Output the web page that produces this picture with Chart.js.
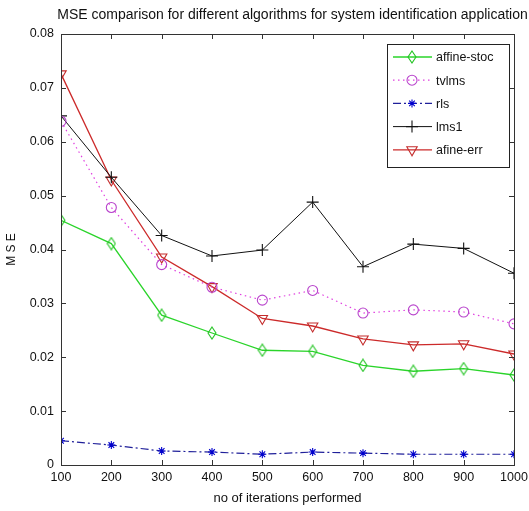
<!DOCTYPE html>
<html>
<head>
<meta charset="utf-8">
<script src="https://cdn.jsdelivr.net/npm/chart.js@4.4.0/dist/chart.umd.min.js"></script>
<style>
  html, body { margin: 0; padding: 0; background: #fff; }
  #wrap { width: 529px; height: 511px; }
</style>
</head>
<body>
<div id="wrap"><canvas id="mseChart" width="529" height="511"></canvas></div>
<script>
const iterations = [100, 200, 300, 400, 500, 600, 700, 800, 900, 1000];
const affineStoc = [0.0454, 0.0411, 0.0278, 0.0245, 0.0213, 0.0211, 0.0185, 0.0174, 0.0179, 0.0167];
const tvlms = [0.0638, 0.0478, 0.0372, 0.0330, 0.0306, 0.0324, 0.0282, 0.0288, 0.0284, 0.0262];
const rls = [0.0045, 0.0037, 0.0026, 0.0024, 0.0020, 0.0024, 0.0022, 0.0020, 0.0020, 0.0020];
const lms1 = [0.0648, 0.0534, 0.0426, 0.0388, 0.0399, 0.0488, 0.0368, 0.0410, 0.0402, 0.0356];
const afineErr = [0.0726, 0.0529, 0.0386, 0.0331, 0.0272, 0.0258, 0.0234, 0.0223, 0.0225, 0.0206];
const yTicks = [0, 0.01, 0.02, 0.03, 0.04, 0.05, 0.06, 0.07, 0.08];
const chartTitle = 'MSE comparison for different algorithms for system identification application';

const FONT = "'Liberation Sans', Arial, sans-serif";

// narrow matlab style diamond marker
function diamond(color) {
    const c = document.createElement('canvas');
    c.width = 10; c.height = 14;
    const g = c.getContext('2d');
    g.strokeStyle = color;
    g.lineWidth = 1.1;
    g.beginPath();
    g.moveTo(5, 1); g.lineTo(9, 7); g.lineTo(5, 13); g.lineTo(1, 7); g.closePath();
    g.stroke();
    return c;
}
const greenDiamond = diamond('#22c422');

function toXY(vals) {
    return vals.map((v, i) => ({ x: iterations[i], y: v }));
}

const datasets = [{
    label: 'affine-stoc',
    data: toXY(affineStoc),
    borderColor: '#2ad42a',
    borderWidth: 1.3,
    pointStyle: greenDiamond,
    pointBorderColor: '#22c422',
}, {
    label: 'tvlms',
    data: toXY(tvlms),
    borderColor: '#e040e0',
    borderWidth: 1.2,
    borderDash: [1.5, 3.5],
    pointStyle: 'circle',
    pointRadius: 5,
    pointBorderColor: '#b844cc',
}, {
    label: 'rls',
    data: toXY(rls),
    borderColor: '#20209a',
    borderWidth: 1.2,
    borderDash: [8, 3, 2, 3],
    pointStyle: 'star',
    pointRadius: 4,
    pointBorderColor: '#0000cc',
}, {
    label: 'lms1',
    data: toXY(lms1),
    borderColor: '#111111',
    borderWidth: 1,
    pointStyle: 'cross',
    pointRadius: 6,
    pointBorderColor: '#111111',
}, {
    label: 'afine-err',
    data: toXY(afineErr),
    borderColor: '#cc2a2a',
    borderWidth: 1.3,
    pointStyle: 'triangle',
    pointRotation: 180,
    pointRadius: 6,
    pointBorderColor: '#c42c2c',
}];

datasets.forEach(d => {
    d.fill = false;
    d.tension = 0;
    d.pointBackgroundColor = 'rgba(0,0,0,0)';
    d.pointBorderWidth = d.pointBorderWidth || 1.1;
    if (d.pointRadius === undefined) d.pointRadius = 6;
});

// title centred over the axes, not the canvas
const axesTitle = {
    id: 'axesTitle',
    afterDraw(chart) {
        const { ctx, chartArea: a } = chart;
        ctx.save();
        ctx.font = '14px ' + FONT;
        ctx.fillStyle = '#111';
        ctx.textAlign = 'center';
        ctx.textBaseline = 'middle';
        ctx.fillText(chartTitle, (a.left + a.right) / 2 + 5, 15);
        ctx.restore();
    }
};

// box round the axes with inward ticks, matlab style
const axesBox = {
    id: 'axesBox',
    afterDatasetsDraw(chart) {
        const { ctx, chartArea: a, scales } = chart;
        ctx.save();
        ctx.strokeStyle = '#333';
        ctx.lineWidth = 1;
        ctx.strokeRect(a.left + 0.5, a.top + 0.5, a.right - a.left, a.bottom - a.top);
        ctx.beginPath();
        iterations.forEach(v => {
            const x = Math.round(scales.x.getPixelForValue(v)) + 0.5;
            ctx.moveTo(x, a.bottom); ctx.lineTo(x, a.bottom - 5);
            ctx.moveTo(x, a.top); ctx.lineTo(x, a.top + 5);
        });
        yTicks.forEach(v => {
            const y = Math.round(scales.y.getPixelForValue(v)) + 0.5;
            ctx.moveTo(a.left, y); ctx.lineTo(a.left + 5, y);
            ctx.moveTo(a.right, y); ctx.lineTo(a.right - 5, y);
        });
        ctx.stroke();
        ctx.restore();
    }
};

// legend box inside the axes, top right
const boxLegend = {
    id: 'boxLegend',
    afterDraw(chart) {
        const { ctx, chartArea: a } = chart;
        const w = 122, rowH = 23.2, h = 123;
        const left = a.right - 5 - w, top = a.top + 10;
        ctx.save();
        ctx.fillStyle = '#fff';
        ctx.fillRect(left, top, w, h);
        ctx.strokeStyle = '#222';
        ctx.lineWidth = 1;
        ctx.strokeRect(Math.round(left) + 0.5, Math.round(top) + 0.5, w, h);
        ctx.font = '12.5px ' + FONT;
        ctx.textBaseline = 'middle';
        chart.data.datasets.forEach((d, i) => {
            const y = top + 13 + i * rowH;
            ctx.strokeStyle = d.borderColor;
            ctx.lineWidth = d.borderWidth;
            ctx.setLineDash(d.borderDash || []);
            ctx.beginPath();
            ctx.moveTo(left + 6, y);
            ctx.lineTo(left + 45, y);
            ctx.stroke();
            ctx.setLineDash([]);
            ctx.strokeStyle = d.pointBorderColor;
            ctx.fillStyle = 'rgba(0,0,0,0)';
            ctx.lineWidth = d.pointBorderWidth;
            Chart.helpers.drawPoint(ctx, {
                pointStyle: d.pointStyle,
                radius: d.pointRadius,
                rotation: d.pointRotation || 0,
                borderWidth: d.pointBorderWidth
            }, left + 25, y);
            ctx.fillStyle = '#111';
            ctx.fillText(d.label, left + 49, y + 1);
        });
        ctx.restore();
    }
};

new Chart(document.getElementById('mseChart'), {
    type: 'line',
    data: { datasets: datasets },
    options: {
        responsive: false,
        animation: false,
        layout: { padding: { left: 4, right: 15, top: 34, bottom: 0 } },
        plugins: {
            legend: { display: false },
            tooltip: { enabled: false },
            title: { display: false }
        },
        scales: {
            x: {
                type: 'linear',
                min: 100,
                max: 1000,
                grid: { display: false, tickLength: 4 },
                border: { display: false },
                ticks: {
                    stepSize: 100,
                    color: '#111',
                    padding: 1,
                    maxRotation: 0,
                    font: { family: FONT, size: 12.5 },
                    callback: v => String(v)
                },
                title: {
                    display: true,
                    text: 'no of iterations performed',
                    color: '#111',
                    font: { family: FONT, size: 13 },
                    padding: { top: 0, bottom: 5 }
                },
                afterFit(scale) { scale.height = 46; }
            },
            y: {
                min: 0,
                max: 0.08,
                grid: { display: false, tickLength: 4 },
                border: { display: false },
                afterBuildTicks(scale) { scale.ticks = yTicks.map(v => ({ value: v })); },
                ticks: {
                    color: '#111',
                    padding: 3,
                    font: { family: FONT, size: 12.5 },
                    callback: v => String(Number(v.toFixed(2)))
                },
                title: {
                    display: true,
                    text: 'M S E',
                    color: '#111',
                    font: { family: FONT, size: 12 },
                    padding: { top: 0, bottom: 4 }
                },
                afterFit(scale) { scale.width = 57; }
            }
        }
    },
    plugins: [axesTitle, axesBox, boxLegend]
});
</script>
</body>
</html>
